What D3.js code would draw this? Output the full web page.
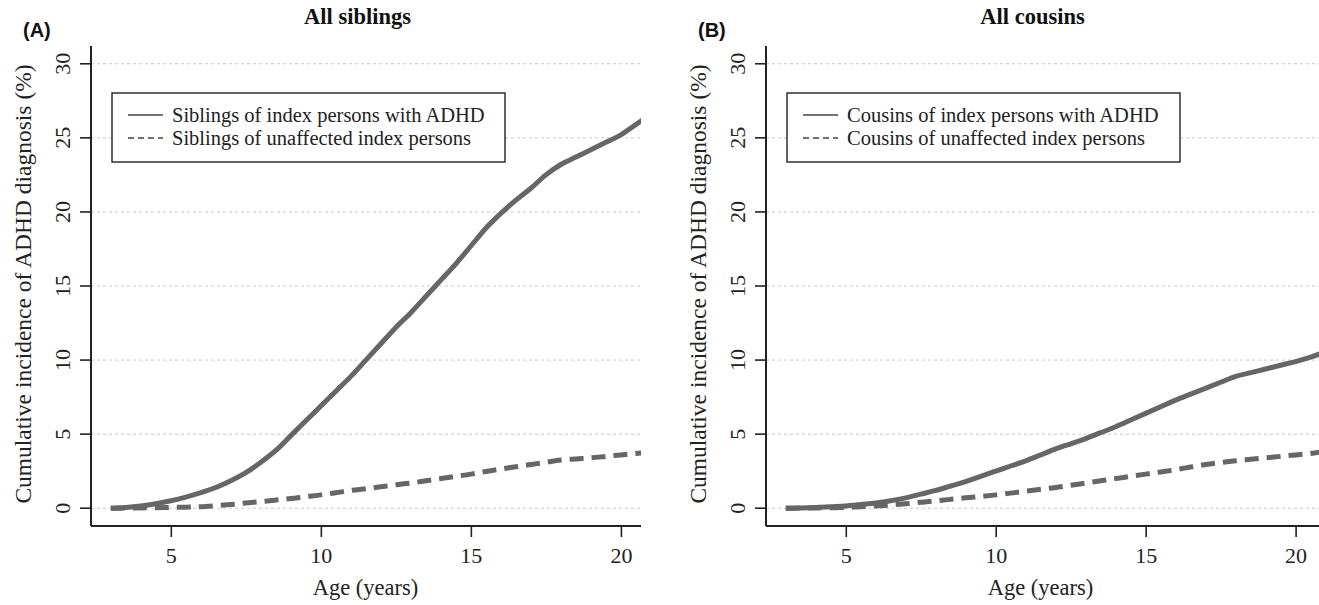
<!DOCTYPE html>
<html>
<head>
<meta charset="utf-8">
<script src="https://cdn.jsdelivr.net/npm/d3@7"></script>
<style>
  html, body { margin: 0; padding: 0; background: #fff; }
  svg { display: block; }
</style>
</head>
<body>
<svg id="chart" width="1319" height="605"></svg>
<script>
'use strict';

// ages (years) at which the curves were read
var ages = [3, 3.5, 4, 4.5, 5, 5.5, 6, 6.5, 7, 7.5, 8, 8.5, 9, 9.5, 10, 10.5, 11, 11.5,
  12, 12.5, 13, 13.5, 14, 14.5, 15, 15.5, 16, 16.5, 17, 17.5, 18, 18.5, 19, 19.5, 20, 20.5, 21];

// cumulative incidence (%)
var siblingsAdhd = [0, 0.05, 0.15, 0.3, 0.5, 0.75, 1.05, 1.4, 1.85, 2.4, 3.1, 3.9, 4.9, 5.9,
  6.9, 7.9, 8.9, 10.0, 11.1, 12.2, 13.2, 14.3, 15.4, 16.5, 17.7, 18.9, 19.9, 20.8, 21.6,
  22.5, 23.2, 23.7, 24.2, 24.7, 25.2, 25.9, 26.6];
var siblingsUnaffected = [0, 0.01, 0.02, 0.03, 0.05, 0.07, 0.1, 0.17, 0.25, 0.35, 0.45,
  0.55, 0.65, 0.78, 0.9, 1.05, 1.2, 1.32, 1.45, 1.58, 1.7, 1.85, 2.0, 2.15, 2.3, 2.48,
  2.65, 2.8, 2.95, 3.1, 3.25, 3.33, 3.4, 3.5, 3.6, 3.7, 3.8];
var cousinsAdhd = [0, 0.02, 0.05, 0.1, 0.15, 0.25, 0.35, 0.5, 0.7, 0.95, 1.2, 1.5, 1.8,
  2.15, 2.5, 2.85, 3.2, 3.6, 4.0, 4.35, 4.7, 5.1, 5.5, 5.95, 6.4, 6.85, 7.3, 7.7, 8.1,
  8.5, 8.9, 9.15, 9.4, 9.65, 9.9, 10.2, 10.55];
var cousinsUnaffected = [0, 0.01, 0.02, 0.03, 0.05, 0.1, 0.15, 0.22, 0.3, 0.4, 0.5, 0.6,
  0.7, 0.8, 0.9, 1.02, 1.15, 1.28, 1.4, 1.55, 1.7, 1.85, 2.0, 2.15, 2.3, 2.45, 2.6, 2.78,
  2.95, 3.08, 3.2, 3.3, 3.4, 3.5, 3.6, 3.7, 3.85];

var xTicks = [5, 10, 15, 20];
var yTicks = [0, 5, 10, 15, 20, 25, 30];

var panels = [
  {
    id: 'a', tag: '(A)', title: 'All siblings',
    left: 91, right: 641, xMax: 20.67,
    legend: ['Siblings of index persons with ADHD', 'Siblings of unaffected index persons'],
    series: [siblingsAdhd, siblingsUnaffected]
  },
  {
    id: 'b', tag: '(B)', title: 'All cousins',
    left: 766, right: 1319, xMax: 20.78,
    legend: ['Cousins of index persons with ADHD', 'Cousins of unaffected index persons'],
    series: [cousinsAdhd, cousinsUnaffected]
  }
];

var svg = d3.select('#chart');
var plotTop = 46, plotBottom = 526;
var serif = '"Liberation Serif", "Times New Roman", serif';
var lineColor = '#666';
var axisColor = '#222';

panels.forEach(drawPanel);

function drawPanel(p) {
  var x = d3.scaleLinear().domain([2.34, p.xMax]).range([p.left, p.right]);
  var y = d3.scaleLinear().domain([-1.2, 31.2]).range([plotBottom, plotTop]);

  var g = svg.append('g').attr('class', 'panel-' + p.id);

  // clip for the curves
  svg.append('defs').append('clipPath')
    .attr('id', 'clip-' + p.id)
    .append('rect')
    .attr('x', p.left).attr('y', plotTop)
    .attr('width', p.right - p.left).attr('height', plotBottom - plotTop);

  // dotted grid
  g.append('g').selectAll('line')
    .data(yTicks)
    .join('line')
    .attr('x1', p.left).attr('x2', p.right)
    .attr('y1', function (d) { return y(d); })
    .attr('y2', function (d) { return y(d); })
    .attr('stroke', '#c8c8c8')
    .attr('stroke-width', 1)
    .attr('stroke-dasharray', '3,3');

  // axes
  var yAxis = g.append('g')
    .attr('transform', 'translate(' + p.left + ',0)')
    .call(d3.axisLeft(y).tickValues(yTicks).tickSize(11).tickPadding(8));
  yAxis.selectAll('.tick').attr('transform', null);
  yAxis.selectAll('.tick line')
    .attr('y1', function (d) { return y(d); })
    .attr('y2', function (d) { return y(d); });
  yAxis.selectAll('.tick text')
    .attr('x', 0).attr('y', 0).attr('dy', 0)
    .attr('text-anchor', 'middle')
    .attr('transform', function (d) { return 'translate(-21,' + y(d) + ') rotate(-90)'; });

  var xAxis = g.append('g')
    .attr('transform', 'translate(0,' + plotBottom + ')')
    .call(d3.axisBottom(x).tickValues(xTicks).tickSize(11).tickPadding(10));

  [yAxis, xAxis].forEach(function (a) {
    a.select('.domain').remove();
    a.selectAll('line').attr('stroke', axisColor).attr('stroke-width', 1.6);
    a.selectAll('text')
      .attr('fill', '#222')
      .style('font-family', serif)
      .style('font-size', '22px');
  });
  xAxis.selectAll('text').attr('dy', '0.71em');

  // axis lines
  g.append('line')
    .attr('x1', p.left).attr('x2', p.left)
    .attr('y1', plotTop).attr('y2', plotBottom)
    .attr('stroke', axisColor).attr('stroke-width', 2);
  g.append('line')
    .attr('x1', p.left).attr('x2', p.right)
    .attr('y1', plotBottom).attr('y2', plotBottom)
    .attr('stroke', axisColor).attr('stroke-width', 2);

  // curves
  var line = d3.line()
    .x(function (d, i) { return x(ages[i]); })
    .y(function (d) { return y(d); })
    .curve(d3.curveMonotoneX);

  g.append('g').attr('clip-path', 'url(#clip-' + p.id + ')')
    .selectAll('path')
    .data(p.series)
    .join('path')
    .attr('d', line)
    .attr('fill', 'none')
    .attr('stroke', lineColor)
    .attr('stroke-width', 5)
    .attr('stroke-dasharray', function (d, i) { return i === 1 ? '14,8' : null; });

  // legend
  var lx = p.left + 21, ly = 93;
  var legend = g.append('g').attr('transform', 'translate(' + lx + ',' + ly + ')');
  legend.append('rect')
    .attr('width', 393).attr('height', 69)
    .attr('fill', '#fff')
    .attr('stroke', axisColor).attr('stroke-width', 1.4);
  var rows = legend.selectAll('g.row')
    .data(p.legend)
    .join('g')
    .attr('class', 'row')
    .attr('transform', function (d, i) { return 'translate(0,' + (22 + i * 23) + ')'; });
  rows.append('line')
    .attr('x1', 16).attr('x2', 51)
    .attr('stroke', '#444').attr('stroke-width', 1.4)
    .attr('stroke-dasharray', function (d, i) { return i === 1 ? '6,4' : null; });
  rows.append('text')
    .attr('x', 60).attr('dy', '0.33em')
    .attr('fill', '#222')
    .style('font-family', serif)
    .style('font-size', '20.5px')
    .text(function (d) { return d; });

  // titles and labels
  g.append('text')
    .attr('x', p.left + 266.5).attr('y', 24)
    .attr('text-anchor', 'middle')
    .attr('fill', '#111')
    .style('font-family', serif)
    .style('font-weight', 'bold')
    .style('font-size', '22.5px')
    .text(p.title);

  g.append('text')
    .attr('x', p.left - 68).attr('y', 37)
    .attr('fill', '#111')
    .style('font-family', '"Liberation Sans", Arial, sans-serif')
    .style('font-weight', 'bold')
    .style('font-size', '20px')
    .text(p.tag);

  g.append('text')
    .attr('x', p.left + 274.5).attr('y', 595)
    .attr('text-anchor', 'middle')
    .attr('fill', '#222')
    .style('font-family', serif)
    .style('font-size', '22.5px')
    .text('Age (years)');

  g.append('text')
    .attr('transform', 'translate(' + (p.left - 60) + ',' + 284 + ') rotate(-90)')
    .attr('text-anchor', 'middle')
    .attr('fill', '#222')
    .style('font-family', serif)
    .style('font-size', '23.5px')
    .text('Cumulative incidence of ADHD diagnosis (%)');
}
</script>
</body>
</html>
